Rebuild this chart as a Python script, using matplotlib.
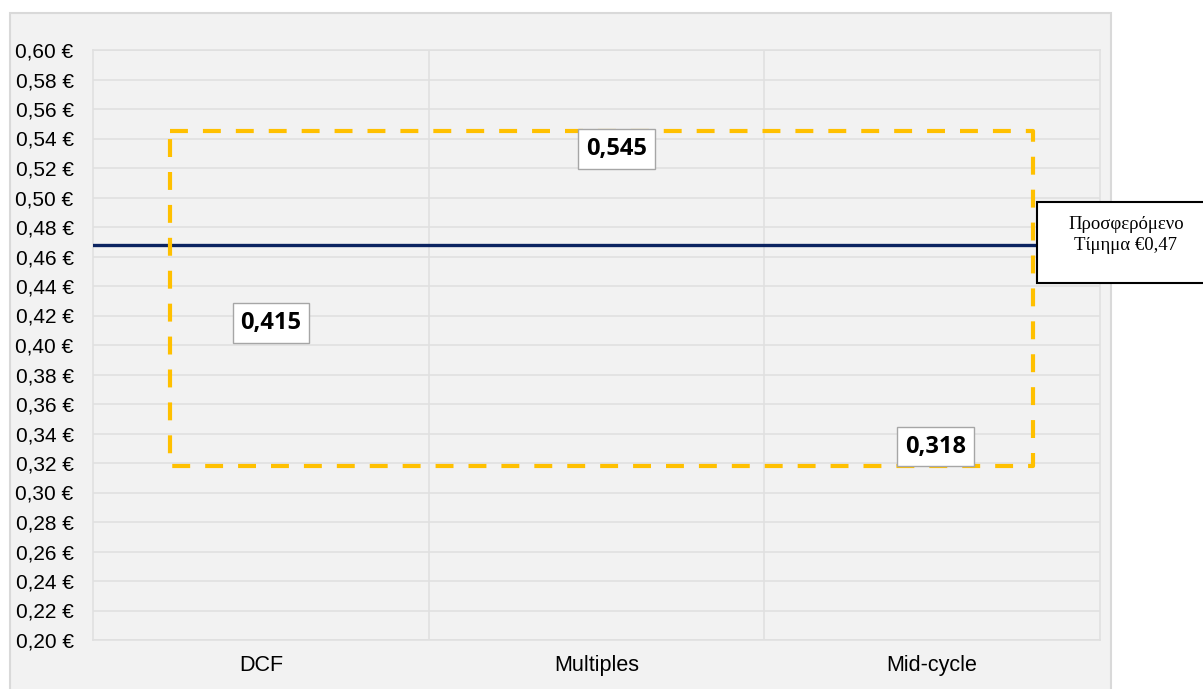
import matplotlib
matplotlib.use("Agg")
import matplotlib.pyplot as plt
from matplotlib.patches import Rectangle

# ── data ──
categories = ["DCF", "Multiples", "Mid-cycle"]
values = [0.415, 0.545, 0.318]
value_labels = ["0,415", "0,545", "0,318"]
offer_price = 0.468
offer_text = "Προσφερόμενο\nΤίμημα €0,47"
y_ticks = [0.20 + 0.02 * i for i in range(21)]
y_tick_labels = [f"{v:.2f}".replace(".", ",") + " €" for v in y_ticks]

# label placement (x shift in category units, y shift in points)
label_dx = [0.03, 0.06, 0.01]
label_dy = [0, -13, 14]

BG = "#f2f2f2"
GRID = "#e0e0e0"
GOLD = "#ffc000"
NAVY = "#0c2461"

fig = plt.figure(figsize=(12.03, 6.89), dpi=100)
fig.patch.set_facecolor("white")

# outer chart area
fig.patches.append(Rectangle((10 / 1203, -0.01), 1101 / 1203, 1 - 13 / 689 + 0.01,
                             transform=fig.transFigure, facecolor=BG,
                             edgecolor="#d9d9d9", linewidth=1.5, zorder=-1))

ax = fig.add_axes([93 / 1203, 1 - 640 / 689, 1007 / 1203, 590 / 689])
ax.set_facecolor(BG)
ax.set_xlim(-0.5, len(categories) - 0.5)
ax.set_ylim(0.20, 0.60)

ax.set_yticks(y_ticks)
ax.set_yticklabels(y_tick_labels, fontsize=15, family="Liberation Sans")
ax.set_xticks(range(len(categories)))
ax.set_xticklabels(categories, fontsize=15.5, family="Liberation Sans")
ax.set_xticks([i + 0.5 for i in range(len(categories) - 1)], minor=True)
ax.tick_params(axis="y", length=0, pad=14)
ax.tick_params(axis="x", which="both", length=0, pad=11)
ax.grid(axis="y", color=GRID, linewidth=1.2)
ax.grid(axis="x", which="minor", color=GRID, linewidth=1.2)
for s in ax.spines.values():
    s.set_color(GRID)
    s.set_linewidth(1.2)

# offer price line
ax.axhline(offer_price, color=NAVY, linewidth=2.4, zorder=3)

# dashed range box
lo, hi = min(values), max(values)
x0, x1 = -0.27, 2.30
ax.plot([x0, x1, x1, x0, x0], [hi, hi, lo, lo, hi], color=GOLD, linewidth=3,
        linestyle=(0, (4.3, 3.6)), solid_capstyle="butt", zorder=4)

# value labels
for i, (v, txt) in enumerate(zip(values, value_labels)):
    ax.annotate(txt, (i + label_dx[i], v), xytext=(0, label_dy[i]),
                textcoords="offset points", ha="center", va="center",
                fontsize=17, fontweight="bold", family="Open Sans", zorder=5,
                bbox=dict(boxstyle="square,pad=0.33", facecolor="white",
                          edgecolor="#a6a6a6", linewidth=1))

# offer price callout
fig.patches.append(Rectangle((1037 / 1203, 1 - 283 / 689), 0.2, 81 / 689,
                             transform=fig.transFigure, facecolor="white",
                             edgecolor="black", linewidth=1.5, zorder=10))
fig.text(1126 / 1203, 1 - 235 / 689, offer_text, ha="center", va="center",
         fontsize=13.5, family="Liberation Serif", linespacing=1.25, zorder=11)

fig.savefig("out.png", dpi=100)
